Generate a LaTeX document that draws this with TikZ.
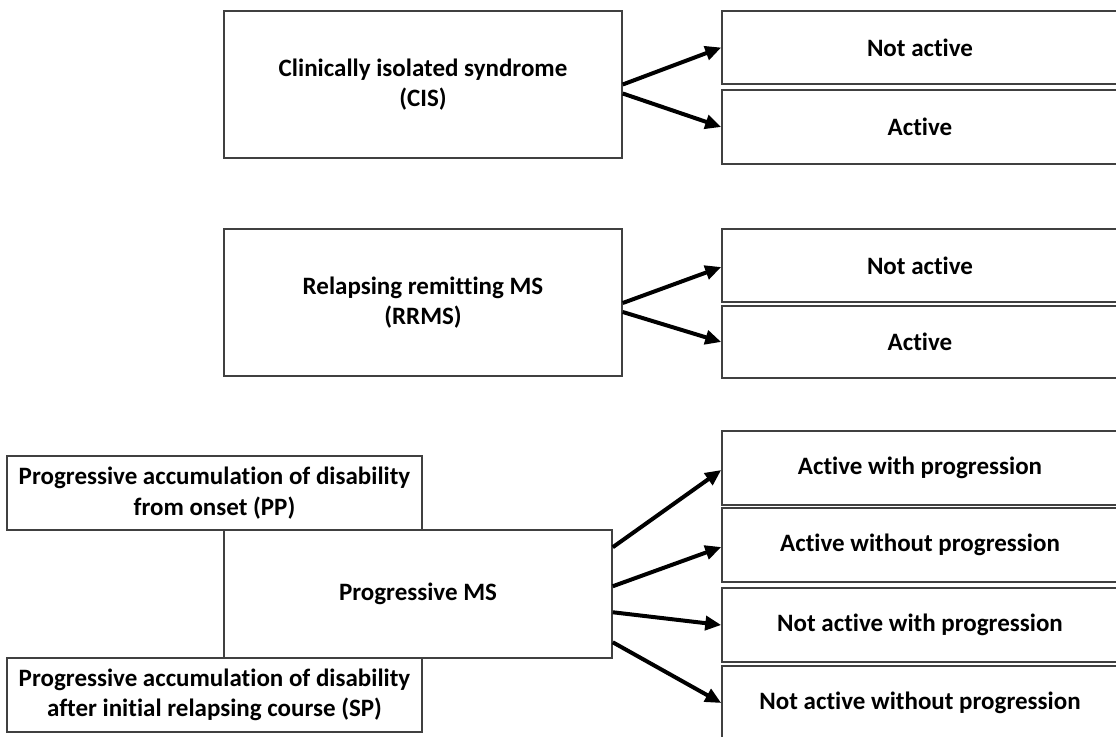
\documentclass[tikz,border=0pt]{standalone}
\usepackage{fontspec}
\setmainfont[Ligatures=NoCommon]{Carlito}
\usetikzlibrary{arrows.meta,calc}
\begin{document}
\begin{tikzpicture}[x=1pt,y=-1pt,
  box/.style={draw=black!75,line width=1.5pt,fill=white,inner sep=0pt,align=center,
    font=\fontsize{25}{30.5}\selectfont\bfseries},
  arr/.style={line width=4pt,-{Triangle[length=16pt,width=14pt]}}]
\useasboundingbox (0,0) rectangle (1116,736);
\clip (0,0) rectangle (1116,736);
% row 1
\node[box,minimum width=398pt,minimum height=147pt] (cis) at (423,84.5) {Clinically isolated syndrome\\(CIS)};
\node[box,minimum width=396pt,minimum height=73pt] (na1) at (920,47.5) {Not active};
\node[box,minimum width=396pt,minimum height=74pt] (a1) at (920,127) {Active};
% row 2
\node[box,minimum width=398pt,minimum height=147pt] (rrms) at (423,302.5) {Relapsing remitting MS\\(RRMS)};
\node[box,minimum width=396pt,minimum height=73pt] (na2) at (920,265.5) {Not active};
\node[box,minimum width=396pt,minimum height=72pt] (a2) at (920,342) {Active};
% row 3
\node[box,minimum width=415pt,minimum height=74pt] (pp) at (214.5,493) {Progressive accumulation of disability\\from onset (PP)};
\node[box,minimum width=388pt,minimum height=128pt] (ms) at (418,594) {Progressive MS};
\node[box,minimum width=415pt,minimum height=74pt] (sp) at (214.5,695) {Progressive accumulation of disability\\after initial relapsing course (SP)};
\node[box,minimum width=396pt,minimum height=74pt] (r1) at (920,468) {Active with progression};
\node[box,minimum width=396pt,minimum height=74pt] (r2) at (920,545) {Active without progression};
\node[box,minimum width=396pt,minimum height=74pt] (r3) at (920,625) {Not active with progression};
\node[box,minimum width=396pt,minimum height=74pt] (r4) at (920,703) {Not active without progression};
% arrows
\draw[arr] (cis.east) -- (na1.west);
\draw[arr] ($(cis.east)+(0,9)$) -- (a1.west);
\draw[arr] ($(rrms.east)+(0,0.5)$) -- ($(na2.west)+(0,1.5)$);
\draw[arr] ($(rrms.east)+(0,9.5)$) -- (a2.west);
\draw[arr] ($(ms.north east)+(0,18)$) -- ($(r1.west)+(0,2)$);
\draw[arr] ($(ms.north east)+(0,57)$) -- ($(r2.west)+(0,2)$);
\draw[arr] ($(ms.north east)+(0,83)$) -- (r3.west);
\draw[arr] ($(ms.north east)+(0,113)$) -- (r4.west);
\end{tikzpicture}
\end{document}
